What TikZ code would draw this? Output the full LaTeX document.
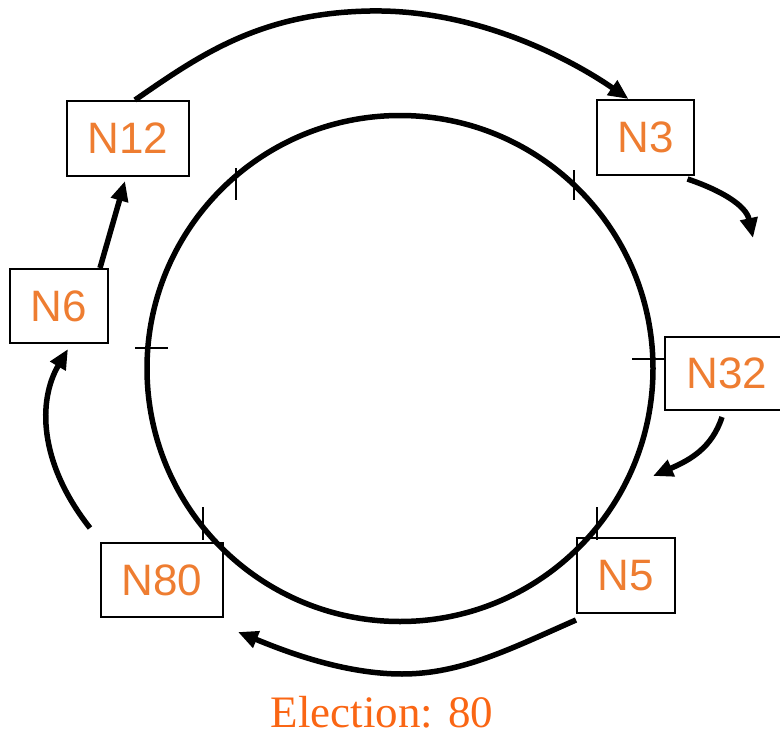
\documentclass[tikz,border=0pt]{standalone}
\usepackage{fontspec}
\setmainfont{Liberation Serif}
\newfontfamily\boxfont{Liberation Sans}
\usetikzlibrary{arrows.meta}
\definecolor{nodeorange}{RGB}{238,125,49}
\definecolor{labelorange}{RGB}{250,102,20}
\begin{document}
\begin{tikzpicture}[x=1pt,y=-1pt,
  ringnode/.style={draw=black,line width=2pt,inner sep=0pt,
    text=nodeorange,font=\boxfont\fontsize{44}{48}\selectfont},
  msg/.style={line width=5.5pt,-{Triangle[length=20pt,width=17pt]}},
  tick/.style={line width=1.4pt}]
\useasboundingbox (0,0) rectangle (780,736);

% processes on the ring
\node[ringnode,minimum width=122pt,minimum height=75pt] (n12) at (128,138.5) {N12};
\node[ringnode,minimum width=98pt,minimum height=74pt] (n6) at (59,306) {N6};
\node[ringnode,minimum width=97pt,minimum height=75pt] (n3) at (645.5,137.5) {N3};
\node[ringnode,minimum width=124pt,minimum height=73pt] (n32) at (727,373.5) {N32};
\node[ringnode,minimum width=98pt,minimum height=75pt] (n5) at (626,575.5) {N5};
\node[ringnode,minimum width=122pt,minimum height=74pt] (n80) at (162,580) {N80};

% the ring
\coordinate (c) at (400,368.5);
\draw[line width=5.5pt] (c) circle[radius=253];

% position marks on the ring
\draw[tick] (135,348) -- (168,348);
\draw[tick] (236,168) -- (236,200);
\draw[tick] (574,170) -- (574,200);
\draw[tick] (632,359) -- (665,359);
\draw[tick] (203,507) -- (203,540);
\draw[tick] (597,507) -- (597,540);

% free ends of the election messages
\coordinate (a3) at (753,238);
\coordinate (a32) at (653,476);
\coordinate (a5) at (238,632);
\coordinate (top) at (370,11);
\coordinate (bot) at (402,674);

% election messages passed around the ring
\draw[msg] ([xshift=7pt]n12.north) .. controls (200,55) and (260,13) .. (top)
  .. controls (480,9) and (575,62) .. ([xshift=-17pt]n3.north);
\draw[msg] ([xshift=42pt,yshift=-3pt]n3.south) .. controls (720,190) and (746,205) .. (a3);
\draw[msg] ([xshift=-5pt,yshift=-6pt]n32.south) .. controls (712,448) and (690,460) .. (a32);
\draw[msg] ([yshift=-6pt]n5.south west) .. controls (512,648) and (462,674) .. (bot)
  .. controls (342,674) and (282,650) .. (a5);
\draw[msg] (90,528) .. controls (38,462) and (38,400) .. ([xshift=9pt,yshift=-5pt]n6.south);
\draw[msg] ([xshift=41pt]n6.north) -- ([xshift=-3pt,yshift=-4pt]n12.south);

% caption
\node[text=labelorange,font=\fontsize{45}{50}\selectfont,anchor=base,inner sep=0pt] (cap) at (382,727) {Election: 80};
\end{tikzpicture}
\end{document}
